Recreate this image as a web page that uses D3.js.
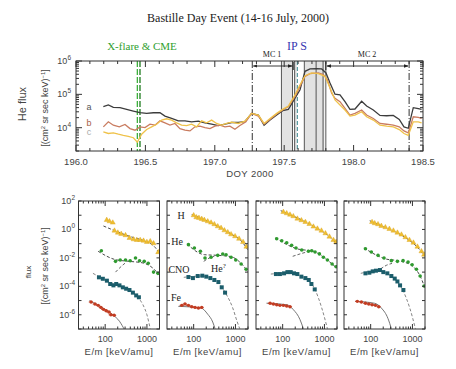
<!DOCTYPE html>
<html lang="en">
<head>
<meta charset="utf-8">
<script src="https://cdnjs.cloudflare.com/ajax/libs/d3/7.8.5/d3.min.js"></script>
<style>
body { margin: 0; background: #fff; }
svg { display: block; }
text { font-family: "Liberation Sans", Arial, sans-serif; fill: #444; }
.serif { font-family: "Liberation Serif", "Times New Roman", serif; }
</style>
</head>
<body>
<script>
// ---- top panel: He flux vs DOY 2000 ----
var seriesA = [[196.197,4.28e4],[196.233,4.80e4],[196.269,4.08e4],[196.317,3.99e4],[196.365,3.55e4],[196.413,3.16e4],
  [196.461,2.81e4],[196.509,2.69e4],[196.557,2.81e4],[196.605,2.81e4],[196.641,2.23e4],[196.689,1.89e4],[196.737,1.61e4],
  [196.785,1.61e4],[196.833,1.50e4],[196.881,1.57e4],[196.929,1.40e4],[196.977,1.27e4],[197.025,1.16e4],[197.073,1.27e4],
  [197.121,1.43e4],[197.169,1.43e4],[197.217,1.53e4],[197.265,2.69e4],[197.314,2.39e4],[197.355,1.19e4],[197.398,1.69e4],
  [197.446,2.39e4],[197.489,3.24e4],[197.530,3.55e4],[197.578,7.64e4],[197.614,1.37e5],[197.650,4.91e5],[197.686,5.78e5],
  [197.734,5.92e5],[197.770,5.78e5],[197.801,4.38e5],[197.830,2.18e5],[197.866,1.01e5],[197.902,9.64e4],[197.938,6.05e4],
  [197.974,3.55e4],[198.010,3.63e4],[198.058,6.19e4],[198.094,4.48e4],[198.142,3.39e4],[198.190,2.33e4],[198.238,2.28e4],
  [198.286,2.33e4],[198.329,1.77e4],[198.363,1.06e4],[198.394,9.6e3],[198.430,3.99e4],[198.466,3.72e4],[198.490,3.55e4]]
var seriesB = [[196.197,1.06e4],[196.233,1.50e4],[196.269,1.19e4],[196.312,1.06e4],[196.353,1.25e4],[196.389,9.4e3],
  [196.425,8.4e3],[196.461,1.06e4],[196.497,1.01e4],[196.533,1.27e4],[196.569,1.19e4],[196.605,1.61e4],[196.641,1.40e4],
  [196.677,1.19e4],[196.713,1.34e4],[196.749,9.4e3],[196.785,8.4e3],[196.821,8.0e3],[196.857,1.06e4],[196.893,1.11e4],
  [196.929,1.01e4],[196.965,9.4e3],[197.001,1.11e4],[197.037,1.19e4],[197.073,1.06e4],[197.109,1.11e4],[197.145,9.0e3],
  [197.181,1.16e4],[197.224,1.50e4],[197.265,2.69e4],[197.314,2.23e4],[197.355,1.28e4],[197.398,1.77e4],[197.446,2.56e4],
  [197.489,3.39e4],[197.530,4.28e4],[197.578,8.59e4],[197.614,1.73e5],[197.650,3.47e5],[197.686,4.18e5],[197.746,4.38e5],
  [197.782,3.89e5],[197.811,2.75e5],[197.842,1.08e5],[197.866,7.64e4],[197.902,6.05e4],[197.938,3.80e4],[197.974,2.39e4],
  [198.010,2.69e4],[198.058,3.39e4],[198.094,2.39e4],[198.142,1.89e4],[198.190,1.34e4],[198.238,1.27e4],[198.286,1.19e4],
  [198.329,1.06e4],[198.363,8.0e3],[198.394,7.0e3],[198.430,2.13e4],[198.466,2.03e4],[198.490,1.89e4]]
var seriesC = [[196.197,7.5e3],[196.233,6.7e3],[196.269,7.0e3],[196.305,6.4e3],[196.341,5.9e3],[196.377,5.5e3],
  [196.413,5.0e3],[196.442,3.7e3],[196.473,6.4e3],[196.509,8.8e3],[196.545,1.06e4],[196.581,1.27e4],[196.617,1.69e4],
  [196.653,1.85e4],[196.689,1.69e4],[196.725,1.40e4],[196.761,1.19e4],[196.797,1.16e4],[196.833,1.27e4],[196.869,1.06e4],
  [196.905,1.61e4],[196.941,1.40e4],[196.977,1.69e4],[197.013,1.34e4],[197.049,1.19e4],[197.085,1.34e4],[197.121,1.47e4],
  [197.169,1.34e4],[197.217,1.57e4],[197.265,2.69e4],[197.314,2.39e4],[197.355,1.34e4],[197.398,1.89e4],[197.446,2.69e4],
  [197.489,3.55e4],[197.530,4.48e4],[197.578,9.64e4],[197.614,1.94e5],[197.650,3.63e5],[197.698,4.38e5],[197.746,4.18e5],
  [197.794,3.47e5],[197.826,1.73e5],[197.866,6.81e4],[197.902,4.80e4],[197.938,3.39e4],[197.974,2.23e4],[198.010,2.39e4],
  [198.058,3.01e4],[198.094,2.13e4],[198.142,1.69e4],[198.190,1.19e4],[198.238,1.11e4],[198.286,1.06e4],[198.329,8.8e3],
  [198.363,6.7e3],[198.394,5.9e3],[198.430,1.50e4],[198.466,1.50e4],[198.490,1.40e4]]
var dayTicks = [196.0, 196.5, 197.0, 197.5, 198.0, 198.5]
var fluxTicks = [1e4, 1e5, 1e6]
var cmeDays = [196.442, 196.461]
var shockDay = 197.595
var mcBounds = [[197.27, 197.565], [197.80, 198.40]]
var shaded = [[197.48, 197.56], [197.575, 197.59], [197.645, 197.79]]
var edgeDays = [197.48, 197.56, 197.575, 197.645, 197.73, 197.78, 197.80]

// ---- bottom panels: spectra, one entry per panel ----
var H_pts = [
  [[109,4.6],[127,3.7],[152,3.0],[167,0.82],[201,0.59],[242,0.48],[307,0.39],[383,0.25],[478,0.20],[574,0.18],[690,0.18],[830,0.16],[998,0.13],[1200,0.146],[1442,0.105],[1866,0.025]],
  [[100,9.8],[116,7.1],[134,6.4],[156,5.4],[180,4.6],[217,3.7],[261,3.0],[313,2.3],[377,1.65],[453,1.26],[545,0.86],[655,0.63],[787,0.45],[982,0.33],[1224,0.22],[1525,0.13],[1833,0.061]],
  [[104,16.8],[125,13.6],[150,10.9],[180,8.4],[225,5.7],[281,4.4],[350,3.3],[437,2.4],[545,1.57],[679,1.13],[848,0.82],[1057,0.53],[1318,0.31],[1644,0.18],[1902,0.13]],
  [[108,3.3],[125,2.7],[150,2.3],[180,1.75],[225,1.41],[281,1.07],[350,0.82],[437,0.59],[545,0.43],[679,0.28],[848,0.18],[1057,0.117],[1318,0.061],[1644,0.029],[1902,0.0168]]
]
var He_pts = [
  [[81,0.032],[177,0.0057],[229,0.0071],[307,0.0071],[397,0.0063],[533,0.0098],[665,0.0063],[861,0.0057],[1074,0.0042],[1440,0.0010],[1832,0.00082]],
  [[75,0.085],[104,0.050],[145,0.029],[187,0.0098],[261,0.011],[377,0.0151],[497,0.0188],[597,0.0168],[787,0.011],[1019,0.0071],[1368,0.0037],[1800,0.0016]],
  [[72,0.22],[95,0.16],[125,0.117],[164,0.076],[209,0.050],[286,0.036],[413,0.029],[497,0.032],[597,0.026],[759,0.019],[946,0.011],[1180,0.0071],[1528,0.0037],[1902,0.0024]],
  [[75,0.044],[104,0.026],[150,0.0151],[209,0.0098],[313,0.0064],[437,0.0057],[597,0.0064],[787,0.0051],[982,0.0033],[1247,0.0016],[1528,5.3e-4],[1902,1.05e-4]]
]
var CNO_pts = [
  [[71,4.3e-4],[88,3.4e-4],[110,2.5e-4],[132,1.46e-4],[158,1.17e-4],[184,1.46e-4],[220,1.17e-4],[265,8.5e-5],[318,6.8e-5],[382,5.5e-5],[461,3.6e-5],[553,2.3e-5],[642,1.7e-5]],
  [[75,4.5e-4],[96,3.8e-4],[125,5.3e-4],[161,5.6e-4],[201,4.8e-4],[251,3.8e-4],[313,2.8e-4],[391,2.0e-4],[470,8.5e-5],[565,3.6e-5]],
  [[69,7.3e-4],[86,7.3e-4],[108,8.2e-4],[130,1.0e-3],[156,1.0e-3],[187,8.2e-4],[225,7.3e-4],[281,4.8e-4],[350,3.8e-4],[421,2.8e-4],[488,1.46e-4],[586,6.1e-5]],
  [[75,8.2e-4],[93,9.1e-4],[112,1.13e-3],[134,1.26e-3],[167,1.4e-3],[201,1.0e-3],[251,8.2e-4],[313,5.3e-4],[377,3.5e-4],[437,2.2e-4],[506,1.17e-4],[608,5.5e-5]]
]
var Fe_pts = [
  [[46,7.9e-6],[57,5.7e-6],[68,4.6e-6],[79,3.3e-6],[91,2.4e-6],[106,1.9e-6],[123,1.56e-6],[137,1.0e-6],[164,9.2e-7]],
  [[52,4.6e-6],[62,5.7e-6],[75,4.6e-6],[90,3.7e-6],[108,3.3e-6],[130,3.0e-6],[156,3.3e-6]],
  [[50,6.4e-6],[60,5.7e-6],[72,5.1e-6],[86,4.6e-6],[104,4.6e-6],[125,4.1e-6],[150,3.7e-6]],
  [[48,8.8e-6],[60,7.9e-6],[75,6.4e-6],[90,5.7e-6],[108,5.1e-6],[130,4.6e-6],[156,3.7e-6]]
]
// fitted curves
var H_fit = [
  [[91,1.75],[184,0.74],[382,0.33],[802,0.17],[1268,0.095],[1671,0.044],[2085,0.015]],
  [[90,10.9],[180,4.8],[313,2.2],[787,0.48],[1365,0.16],[1972,0.038]],
  [[90,20.9],[180,8.6],[313,4.1],[787,0.91],[1368,0.28],[1972,0.095]],
  [[95,4.1],[180,1.8],[313,0.91],[787,0.20],[1368,0.050],[1972,0.0128]]
]
var He_fit = [
  [[68,0.029],[177,0.0075],[382,0.0057],[802,0.0044],[1390,0.0019],[2085,0.0005]],
  [[69,0.095],[180,0.0168],[377,0.0151],[787,0.0122],[1368,0.0041],[1972,0.0011]],
  [[67,0.25],[217,0.044],[545,0.029],[1138,0.0075],[1972,0.0019]],
  [[69,0.050],[217,0.0088],[545,0.0057],[1038,0.0025],[1500,5.9e-4],[1972,8.5e-5]]
]
var He2_fit = [
  [[177,0.0010],[242,0.0025],[318,0.0049]],
  [[174,0.0057],[238,0.0098],[313,0.0129]],
  [[174,0.0129],[261,0.019],[377,0.026]],
  [[174,0.0017],[238,0.0030],[325,0.0041]]
]
var CNO_fit = [
  [[51,8.2e-4],[127,2.0e-4],[318,6.8e-5],[608,1.7e-5],[802,5.1e-6],[1000,1.0e-6],[1200,1.05e-7]],
  [[58,4.3e-4],[150,5.3e-4],[313,3.1e-4],[597,2.9e-5],[863,3.0e-6],[1096,3.4e-7],[1270,1.05e-7]],
  [[52,7.3e-4],[150,8.8e-4],[313,4.3e-4],[597,5.8e-5],[863,3.0e-6],[1180,1.05e-7]],
  [[58,8.2e-4],[150,1.26e-3],[313,4.8e-4],[597,4.9e-5],[863,3.0e-6],[1180,1.05e-7]]
]
var Fe_fit = [
  [[42,9.8e-6],[88,3.0e-6],[153,1.0e-6],[220,3.5e-7],[296,8e-8]],
  [[43,3.9e-6],[150,3.0e-6],[217,1.1e-6],[286,3.1e-7],[325,1.05e-7]],
  [[41,6.5e-6],[125,5.1e-6],[180,2.3e-6],[261,4.5e-7],[313,1.05e-7]],
  [[43,8.8e-6],[125,6.4e-6],[180,3.0e-6],[261,5.3e-7],[313,1.05e-7]]
]
var energyTicks = [100, 1000]
var specTicks = [1e2, 1, 1e-2, 1e-4, 1e-6]

var w = 456
var h = 369
var svg = d3.select("body").append("svg").attr("width", w).attr("height", h)
var defs = svg.append("defs")

svg.append("text").attr("class", "serif").attr("x", 238).attr("y", 22)
   .attr("text-anchor", "middle").attr("font-size", 12).style("fill", "#222")
   .text("Bastille Day Event (14-16 July, 2000)")

// ---------- top plot ----------
var x = d3.scaleLinear().domain([196, 198.5]).range([76, 423])
var y = d3.scaleLog().domain([2000, 1e6]).range([151, 61])
var topG = svg.append("g")

topG.selectAll("rect.shade").data(shaded).enter().append("rect")
   .attr("x", function(d) { return x(d[0]) })
   .attr("y", 61)
   .attr("width", function(d) { return x(d[1]) - x(d[0]) })
   .attr("height", 90)
   .attr("fill", "#e2e2e2")

topG.selectAll("line.edge").data(edgeDays).enter().append("line")
   .attr("x1", function(d) { return x(d) }).attr("x2", function(d) { return x(d) })
   .attr("y1", 61).attr("y2", 151)
   .attr("stroke", "#444").attr("stroke-width", 0.9)

topG.selectAll("line.mc").data([mcBounds[0][0], mcBounds[1][1]]).enter().append("line")
   .attr("x1", function(d) { return x(d) }).attr("x2", function(d) { return x(d) })
   .attr("y1", 61).attr("y2", 151)
   .attr("stroke", "#333").attr("stroke-width", 1)
   .attr("stroke-dasharray", "7,2,1,2")

topG.selectAll("line.cme").data(cmeDays).enter().append("line")
   .attr("x1", function(d) { return x(d) }).attr("x2", function(d) { return x(d) })
   .attr("y1", 61).attr("y2", 151)
   .attr("stroke", function(d, i) { return i == 0 ? "#3cb03c" : "#1d7a1d" })
   .attr("stroke-width", 1.3)
   .attr("stroke-dasharray", "6,2")

topG.append("line")
   .attr("x1", x(shockDay)).attr("x2", x(shockDay))
   .attr("y1", 61).attr("y2", 151)
   .attr("stroke", "#5a9aa0").attr("stroke-width", 1.2)
   .attr("stroke-dasharray", "4,2")

var line = d3.line()
   .x(function(d) { return x(d[0]) })
   .y(function(d) { return y(d[1]) })

var seriesColors = ["#3c3c3c", "#c97c60", "#efc24a"]
topG.selectAll("path.flux").data([seriesA, seriesB, seriesC]).enter().append("path")
   .attr("d", line)
   .attr("fill", "none")
   .attr("stroke", function(d, i) { return seriesColors[i] })
   .attr("stroke-width", 1.3)

// MC brackets
defs.append("marker").attr("id", "arr").attr("viewBox", "0 0 8 8")
    .attr("refX", 7.5).attr("refY", 4).attr("markerWidth", 5).attr("markerHeight", 5)
    .attr("orient", "auto-start-reverse")
    .append("path").attr("d", "M0,1 L8,4 L0,7 Z").attr("fill", "#222")
topG.selectAll("line.bracket").data(mcBounds).enter().append("line")
   .attr("x1", function(d) { return x(d[0]) + 1 })
   .attr("x2", function(d) { return x(d[1]) - 1 })
   .attr("y1", 66).attr("y2", 66)
   .attr("stroke", "#222").attr("stroke-width", 0.9)
   .attr("marker-start", "url(#arr)").attr("marker-end", "url(#arr)")
topG.selectAll("line.bend").data([mcBounds[0][1], mcBounds[1][0]]).enter().append("line")
   .attr("x1", function(d) { return x(d) }).attr("x2", function(d) { return x(d) })
   .attr("y1", 62).attr("y2", 70)
   .attr("stroke", "#222")

// frame + ticks
topG.append("rect").attr("x", 76).attr("y", 61).attr("width", 347).attr("height", 90)
   .attr("fill", "none").attr("stroke", "#333")

var minorDays = d3.range(196, 198.51, 0.1)
topG.selectAll("line.xtb").data(minorDays).enter().append("line")
   .attr("x1", function(d) { return x(d) }).attr("x2", function(d) { return x(d) })
   .attr("y1", 151).attr("y2", function(d, i) { return i % 5 == 0 ? 145 : 148 })
   .attr("stroke", "#333")
topG.selectAll("line.xtt").data(minorDays).enter().append("line")
   .attr("x1", function(d) { return x(d) }).attr("x2", function(d) { return x(d) })
   .attr("y1", 61).attr("y2", function(d, i) { return i % 5 == 0 ? 67 : 64 })
   .attr("stroke", "#333")

var minorFlux = []
for (var e = 3; e < 6; e++) for (var m = 1; m < 10; m++) {
    var v = m * Math.pow(10, e)
    if (v >= 2000) minorFlux.push(v)
}
minorFlux.push(1e6)
topG.selectAll("line.ytl").data(minorFlux).enter().append("line")
   .attr("x1", 76).attr("x2", function(d) { return 76 + (fluxTicks.indexOf(d) >= 0 ? 6 : 3) })
   .attr("y1", function(d) { return y(d) }).attr("y2", function(d) { return y(d) })
   .attr("stroke", "#333")
topG.selectAll("line.ytr").data(minorFlux).enter().append("line")
   .attr("x1", 423).attr("x2", function(d) { return 423 - (fluxTicks.indexOf(d) >= 0 ? 6 : 3) })
   .attr("y1", function(d) { return y(d) }).attr("y2", function(d) { return y(d) })
   .attr("stroke", "#333")

topG.selectAll("text.xl").data(dayTicks).enter().append("text")
   .attr("x", function(d) { return x(d) }).attr("y", 165)
   .attr("text-anchor", "middle").attr("font-size", 9.5)
   .text(function(d) { return d.toFixed(1) })
topG.append("text").attr("x", 250).attr("y", 177).attr("text-anchor", "middle")
   .attr("font-size", 9.5).attr("letter-spacing", 0.4).text("DOY 2000")

var yl = topG.selectAll("text.yl").data(fluxTicks).enter().append("text")
   .attr("x", 71).attr("y", function(d) { return y(d) + 3 })
   .attr("text-anchor", "end").attr("font-size", 9)
yl.append("tspan").text("10")
yl.append("tspan").attr("dy", -4).attr("font-size", 6.5)
   .text(function(d) { return Math.round(Math.log10(d)) })

topG.append("text").attr("transform", "translate(26,104) rotate(-90)")
   .attr("text-anchor", "middle").attr("font-size", 11).text("He flux")
var yt = topG.append("text").attr("transform", "translate(48,108) rotate(-90)")
   .attr("text-anchor", "middle").attr("font-size", 9)
yt.append("tspan").text("[(cm")
yt.append("tspan").attr("dy", -3).attr("font-size", 6).text("2")
yt.append("tspan").attr("dy", 3).text(" sr sec keV)")
yt.append("tspan").attr("dy", -3).attr("font-size", 6).text("\u22121")
yt.append("tspan").attr("dy", 3).text("]")

topG.selectAll("text.lab").data(["a", "b", "c"]).enter().append("text")
   .attr("x", 89).attr("y", function(d, i) { return [110, 126, 135][i] })
   .attr("text-anchor", "middle").attr("font-size", 9)
   .style("fill", function(d, i) { return ["#555", "#a86048", "#aaa"][i] })
   .text(function(d) { return d })

svg.append("text").attr("class", "serif").attr("x", 142).attr("y", 50)
   .attr("text-anchor", "middle").attr("font-size", 11).style("fill", "#2e9e2e")
   .text("X-flare & CME")
svg.append("text").attr("class", "serif").attr("x", 297).attr("y", 50)
   .attr("text-anchor", "middle").attr("font-size", 12).style("fill", "#3838b0")
   .text("IP S")
svg.selectAll("text.mcl").data(["MC 1", "MC 2"]).enter().append("text")
   .attr("class", "serif")
   .attr("x", function(d, i) { return [272, 367][i] }).attr("y", 57)
   .attr("text-anchor", "middle").attr("font-size", 8).style("fill", "#222")
   .text(function(d) { return d })

// ---------- bottom panels ----------
var px = [78.5, 167, 256, 344]
var pw = 81
var bx = d3.scaleLog().domain([23, 2000]).range([0, pw])
var by = d3.scaleLog().domain([1e-7, 1e2]).range([329, 201])
var fitLine = d3.line()
   .x(function(d) { return bx(d[0]) })
   .y(function(d) { return by(d[1]) })
   .curve(d3.curveMonotoneX)

var cH = "#efbe30", cHe = "#2f9a2f", cCNO = "#1b5d6b", cFe = "#c23c22"

var eMinor = []
for (var e2 = 1; e2 < 4; e2++) for (var m2 = 1; m2 < 10; m2++) {
    var v2 = m2 * Math.pow(10, e2)
    if (v2 >= 23 && v2 <= 2000) eMinor.push(v2)
}
var fMajor = d3.range(-7, 3).map(function(k) { return Math.pow(10, k) })

px.forEach(function(left, i) {
    var g = svg.append("g").attr("transform", "translate(" + left + ",0)")
    defs.append("clipPath").attr("id", "clip" + i)
        .append("rect").attr("x", 0).attr("y", 201).attr("width", pw).attr("height", 128)
    var plot = g.append("g").attr("clip-path", "url(#clip" + i + ")")

    // fits
    plot.append("path").attr("d", fitLine(H_fit[i])).attr("fill", "none")
        .attr("stroke", "#333").attr("stroke-width", 0.9).attr("stroke-dasharray", "3,2")
    plot.append("path").attr("d", fitLine(He_fit[i])).attr("fill", "none")
        .attr("stroke", "#333").attr("stroke-width", 0.9).attr("stroke-dasharray", "3,2")
    plot.append("path").attr("d", fitLine(He2_fit[i])).attr("fill", "none")
        .attr("stroke", "#555").attr("stroke-width", 0.9).attr("stroke-dasharray", "3,2")
    plot.append("path").attr("d", fitLine(CNO_fit[i])).attr("fill", "none")
        .attr("stroke", "#777").attr("stroke-width", 0.9).attr("stroke-dasharray", "3,2")
    plot.append("path").attr("d", fitLine(Fe_fit[i])).attr("fill", "none")
        .attr("stroke", "#666").attr("stroke-width", 0.9)

    // points
    plot.selectAll("path.h").data(H_pts[i]).enter().append("path")
        .attr("d", d3.symbol().type(d3.symbolTriangle).size(11))
        .attr("transform", function(d) { return "translate(" + bx(d[0]) + "," + by(d[1]) + ")" })
        .attr("fill", cH).attr("stroke", "#d9a520").attr("stroke-width", 0.4)
    plot.selectAll("circle.he").data(He_pts[i]).enter().append("circle")
        .attr("cx", function(d) { return bx(d[0]) })
        .attr("cy", function(d) { return by(d[1]) })
        .attr("r", 1.8).attr("fill", cHe)
    plot.selectAll("rect.cno").data(CNO_pts[i]).enter().append("rect")
        .attr("x", function(d) { return bx(d[0]) - 2 })
        .attr("y", function(d) { return by(d[1]) - 2 })
        .attr("width", 4).attr("height", 4).attr("fill", cCNO)
    plot.selectAll("line.fe").data(Fe_pts[i]).enter().append("line")
        .attr("x1", function(d) { return bx(d[0] * 0.88) })
        .attr("x2", function(d) { return bx(d[0] * 1.12) })
        .attr("y1", function(d) { return by(d[1]) })
        .attr("y2", function(d) { return by(d[1]) })
        .attr("stroke", cFe).attr("stroke-width", 0.8)
    plot.selectAll("circle.fe").data(Fe_pts[i]).enter().append("circle")
        .attr("cx", function(d) { return bx(d[0]) })
        .attr("cy", function(d) { return by(d[1]) })
        .attr("r", 1.7).attr("fill", cFe)

    // frame and ticks
    g.append("rect").attr("x", 0).attr("y", 201).attr("width", pw).attr("height", 128)
        .attr("fill", "none").attr("stroke", "#333")
    g.selectAll("line.eb").data(eMinor).enter().append("line")
        .attr("x1", function(d) { return bx(d) }).attr("x2", function(d) { return bx(d) })
        .attr("y1", 329).attr("y2", function(d) { return energyTicks.indexOf(d) >= 0 ? 324 : 326.5 })
        .attr("stroke", "#333")
    g.selectAll("line.et").data(eMinor).enter().append("line")
        .attr("x1", function(d) { return bx(d) }).attr("x2", function(d) { return bx(d) })
        .attr("y1", 201).attr("y2", function(d) { return energyTicks.indexOf(d) >= 0 ? 206 : 203.5 })
        .attr("stroke", "#333")
    g.selectAll("line.fl").data(fMajor).enter().append("line")
        .attr("x1", 0).attr("x2", 3)
        .attr("y1", function(d) { return by(d) }).attr("y2", function(d) { return by(d) })
        .attr("stroke", "#333")
    g.selectAll("line.fr").data(fMajor).enter().append("line")
        .attr("x1", pw).attr("x2", pw - 3)
        .attr("y1", function(d) { return by(d) }).attr("y2", function(d) { return by(d) })
        .attr("stroke", "#333")

    g.selectAll("text.el").data(energyTicks).enter().append("text")
        .attr("x", function(d) { return bx(d) }).attr("y", 342)
        .attr("text-anchor", "middle").attr("font-size", 9)
        .text(function(d) { return d })
    g.append("text").attr("x", pw / 2).attr("y", 355).attr("text-anchor", "middle")
        .attr("font-size", 9.5).attr("letter-spacing", 0.5).text("E/m [keV/amu]")
})

// species labels (second panel)
var lab = svg.append("g").attr("font-size", 10)
lab.selectAll("text").data([["H", 181, 219], ["He", 177, 245], ["CNO", 179, 273], ["Fe", 176, 301]])
   .enter().append("text").attr("class", "serif")
   .attr("x", function(d) { return d[1] }).attr("y", function(d) { return d[2] })
   .attr("text-anchor", "middle").style("fill", "#222")
   .text(function(d) { return d[0] })
var he2 = lab.append("text").attr("class", "serif").attr("x", 211).attr("y", 272).style("fill", "#222")
he2.append("tspan").text("He")
he2.append("tspan").attr("dy", -4).attr("font-size", 7).text("?")

var sl = svg.selectAll("text.sl").data(specTicks).enter().append("text")
   .attr("x", 75).attr("y", function(d) { return by(d) + 3 })
   .attr("text-anchor", "end").attr("font-size", 9)
sl.append("tspan").text("10")
sl.append("tspan").attr("dy", -4).attr("font-size", 6.5)
   .text(function(d) { return Math.round(Math.log10(d)) })

svg.append("text").attr("transform", "translate(31,272) rotate(-90)")
   .attr("text-anchor", "middle").attr("font-size", 8).text("flux")
var st = svg.append("text").attr("transform", "translate(48,266) rotate(-90)")
   .attr("text-anchor", "middle").attr("font-size", 9)
st.append("tspan").text("[(cm")
st.append("tspan").attr("dy", -3).attr("font-size", 6).text("2")
st.append("tspan").attr("dy", 3).text(" sr sec keV)")
st.append("tspan").attr("dy", -3).attr("font-size", 6).text("\u22121")
st.append("tspan").attr("dy", 3).text("]")
</script>
</body>
</html>
